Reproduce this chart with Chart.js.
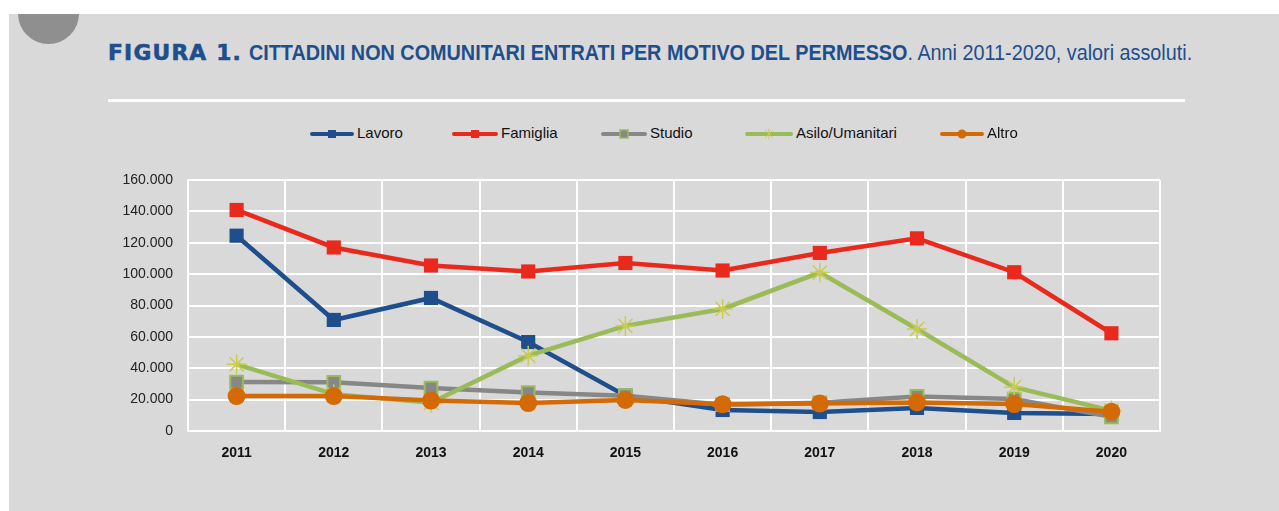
<!doctype html>
<html lang="it">
<head>
  <meta charset="utf-8">
  <title>Figura 1</title>
  <style>
    * { margin: 0; padding: 0; }
    body { width: 1279px; height: 511px; background: #fff; overflow: hidden; position: relative; font-family: "Liberation Sans", Arial, sans-serif; }
    .panel { position: absolute; left: 9px; top: 14px; right: 0; bottom: 0; background: #d9d9d9; overflow: hidden; }
    .blob { position: absolute; left: 9px; top: -31px; width: 61px; height: 61px; border-radius: 50%; background: #8f8f8f; }
    .title { position: absolute; left: 99px; top: 26px; white-space: nowrap; color: #1f4e8c; font-size: 22px; transform: scaleX(0.9); transform-origin: left center; }
    .title .fig { font-family: "DejaVu Sans", sans-serif; font-weight: 900; font-size: 21px; letter-spacing: 1.2px; display: inline-block; transform: scaleX(1.15); transform-origin: left center; margin-right: 27px; -webkit-text-stroke: 0.6px #1f4e8c; }
    .title b { font-weight: bold; }
    .rule { position: absolute; left: 99px; top: 85px; width: 1077px; height: 3px; background: #fff; }
    .legend { position: absolute; top: 124px; left: 0; height: 22px; font-size: 15px; color: #111; }
    .legend .item { position: absolute; top: 0; white-space: nowrap; }
    .legend canvas { vertical-align: middle; margin-right: 3px; }
    #chart { position: absolute; left: 0; top: 0; }
  </style>
</head>
<body>
  <div class="panel">
    <div class="blob"></div>
    <div class="title"><span class="fig">FIGURA 1.</span><b>CITTADINI NON COMUNITARI ENTRATI PER MOTIVO DEL PERMESSO</b>. Anni 2011-2020, valori assoluti.</div>
    <div class="rule"></div>
  </div>
  <div class="legend" id="legend"></div>
  <canvas id="chart" width="1279" height="511"></canvas>
  <script src="https://cdn.jsdelivr.net/npm/chart.js/dist/chart.umd.min.js"></script>
  <script>
    const years = ['2011', '2012', '2013', '2014', '2015', '2016', '2017', '2018', '2019', '2020'];
    const lavoro = [124500, 70800, 84800, 56700, 22500, 13400, 12100, 14700, 11500, 10800];
    const famiglia = [140900, 117000, 105500, 101700, 107100, 102300, 113500, 122800, 101200, 62300];
    const studio = [31200, 31000, 27400, 24500, 22500, 16800, 18000, 22000, 20400, 9000];
    const asilo = [42500, 23500, 18000, 48000, 67000, 77800, 101000, 65000, 28000, 13000];
    const altro = [22300, 22300, 19400, 17800, 19800, 17000, 17500, 18200, 17200, 12300];
    const yTicks = [0, 20000, 40000, 60000, 80000, 100000, 120000, 140000, 160000];

    const series = [
      { label: 'Lavoro', data: lavoro, color: '#1f4e8c', style: 'rect', fill: '#1f4e8c', border: '#1f4e8c', r: 10, lx: 310, tx: 357 },
      { label: 'Famiglia', data: famiglia, color: '#e8291c', style: 'rect', fill: '#e8291c', border: '#e8291c', r: 10, lx: 452, tx: 501 },
      { label: 'Studio', data: studio, color: '#878787', style: 'rect', fill: '#878787', border: '#9bbb59', r: 9, lx: 601, tx: 650 },
      { label: 'Asilo/Umanitari', data: asilo, color: '#9bbb59', style: 'star', fill: '#c8cc50', border: '#c8cc50', r: 10, lx: 745, tx: 796 },
      { label: 'Altro', data: altro, color: '#d46a06', style: 'circle', fill: '#d46a06', border: '#d46a06', r: 9, lx: 940, tx: 987 }
    ];

    // html legend: small line with marker, then text
    const legend = document.getElementById('legend');
    series.forEach(s => {
      const item = document.createElement('div');
      item.className = 'item';
      item.style.left = s.lx + 'px';
      const c = document.createElement('canvas');
      c.width = s.tx - s.lx - 3; c.height = 20;
      const g = c.getContext('2d');
      g.strokeStyle = s.color; g.lineWidth = 4; g.lineCap = 'round';
      g.beginPath(); g.moveTo(2, 10); g.lineTo(c.width - 2, 10); g.stroke();
      const cx = c.width / 2;
      if (s.style === 'rect') {
        g.fillStyle = s.fill; g.fillRect(cx - 4, 6, 8, 8);
        if (s.border !== s.fill) { g.strokeStyle = s.border; g.lineWidth = 1.5; g.strokeRect(cx - 4, 6, 8, 8); }
      } else if (s.style === 'circle') {
        g.fillStyle = s.fill; g.beginPath(); g.arc(cx, 10, 4.5, 0, Math.PI * 2); g.fill();
      } else {
        g.strokeStyle = s.border; g.lineWidth = 1;
        g.beginPath(); g.moveTo(cx - 4, 6); g.lineTo(cx + 4, 14); g.moveTo(cx + 4, 6); g.lineTo(cx - 4, 14); g.moveTo(cx, 5); g.lineTo(cx, 15); g.stroke();
      }
      item.appendChild(c);
      item.appendChild(document.createTextNode(s.label));
      legend.appendChild(item);
    });

    const fmt = v => String(v).replace(/\B(?=(\d{3})+(?!\d))/g, '.');

    const data = {
      labels: years,
      datasets: series.map(s => ({
        label: s.label,
        data: s.data,
        borderColor: s.color,
        borderWidth: 4.5,
        pointStyle: s.style,
        pointRadius: s.r,
        pointBackgroundColor: s.fill,
        pointBorderColor: s.border,
        pointBorderWidth: s.style === 'star' ? 1.5 : (s.border !== s.fill ? 2 : 0),
        tension: 0
      })).reverse()
    };

    const config = {
      type: 'line',
      data,
      options: {
        responsive: false,
        animation: false,
        layout: { padding: { left: 100, right: 119, top: 180, bottom: 40 } },
        plugins: { legend: { display: false }, tooltip: { enabled: false } },
        scales: {
          x: {
            offset: true,
            grid: { color: '#ffffff', lineWidth: 2, drawTicks: false, offset: true },
            border: { color: '#ffffff', width: 2 },
            ticks: { color: '#111', padding: 14, font: { family: '"Liberation Sans", Arial', size: 14, weight: 'bold' } },
            afterFit: scale => { scale.height = 40; }
          },
          y: {
            min: 0, max: 160000,
            afterBuildTicks: scale => { scale.ticks = yTicks.map(v => ({ value: v })); },
            grid: { color: '#ffffff', lineWidth: 2, drawTicks: false },
            border: { color: '#ffffff', width: 2 },
            ticks: { color: '#222', padding: 15, callback: v => fmt(v), font: { family: '"Liberation Sans", Arial', size: 14 } },
            afterFit: scale => { scale.width = 88; }
          }
        }
      }
    };

    const myChart = new Chart(document.getElementById('chart'), config);
  </script>
</body>
</html>
